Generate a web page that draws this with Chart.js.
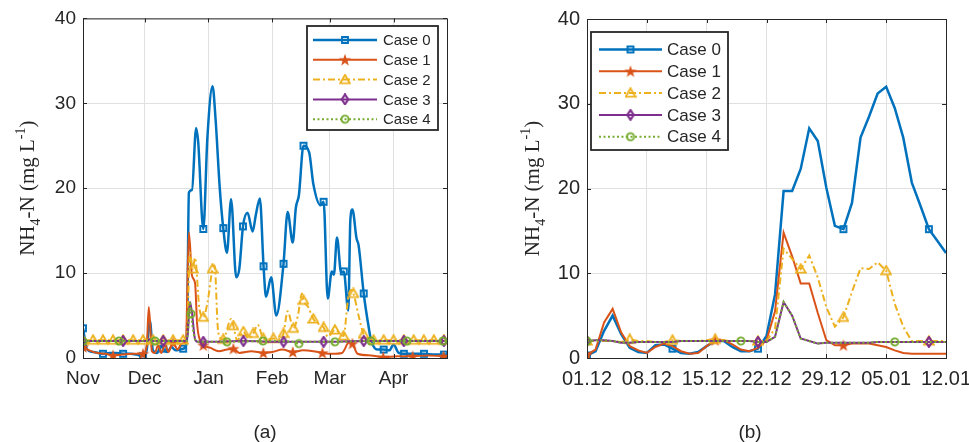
<!DOCTYPE html>
<html>
<head>
<meta charset="utf-8">
<title>NH4-N cases</title>
<script src="https://cdn.jsdelivr.net/npm/chart.js@4.4.0/dist/chart.umd.min.js"></script>
<style>
    html, body { margin: 0; padding: 0; background: #fff; overflow: hidden; }
    body { width: 969px; height: 442px; position: relative; }
    canvas { position: absolute; top: 0; }
    #chart-a { left: 0; }
    #chart-b { left: 480px; }
    .caption {
        position: absolute; top: 421px; width: 60px; line-height: 22px;
        text-align: center; color: #262626;
        font: 19px "Liberation Sans", Arial, sans-serif;
    }
</style>
</head>
<body>
<canvas id="chart-a" width="480" height="442"></canvas>
<canvas id="chart-b" width="520" height="442"></canvas>
<div class="caption" style="left:235px">(a)</div>
<div class="caption" style="left:720px">(b)</div>
<script>
const seriesNames = ["Case 0", "Case 1", "Case 2", "Case 3", "Case 4"];
const yTicks = [0, 10, 20, 30, 40];

// (a) whole season, x = days after 1 Nov
const monthTicks = [0, 30, 61, 92, 120, 151];
const monthLabels = ["Nov", "Dec", "Jan", "Feb", "Mar", "Apr"];

const a0Days = [0, 2, 5, 9.7, 13, 16, 19.5, 23, 26, 29.2, 31, 32.5, 34, 36, 38, 39, 41, 43, 45, 48.7,
    50.5, 51.5, 53, 55, 56, 58.5, 60.5, 63, 64.5, 66.5, 68.2, 70, 72, 74.5, 76, 77.8, 80, 82.5, 84, 86,
    87.8, 89, 91.5, 94, 97.5, 99.5, 102, 103.5, 105, 107.2, 110, 112, 115.5, 117, 119, 121, 122, 123.5, 125.5, 126.8,
    129, 130, 131, 133, 134, 136.5, 139, 140, 143, 146.2, 149, 151, 153.5, 156, 161, 165.8, 171, 175.5, 177];
const a0Vals = [3.5, 1.0, 0.7, 0.5, 0.6, 0.6, 0.5, 0.5, 0.4, 0.2, 1.0, 4.4, 0.9, 0.6, 1.4, 1.1, 0.7, 1.3, 0.9, 1.1,
    2.0, 19.5, 19.8, 27.1, 25.5, 15.2, 26.0, 32.0, 28.0, 20.0, 15.3, 12.4, 18.7, 9.5, 10.5, 15.5, 17.1, 14.9, 16.8, 18.8,
    10.8, 7.2, 9.5, 5.0, 11.1, 17.2, 13.6, 17.7, 19.2, 25.0, 24.2, 20.5, 18.0, 18.4, 7.0, 10.2, 9.8, 14.2, 10.1, 10.2,
    5.6, 16.2, 17.5, 14.1, 13.3, 7.6, 3.5, 2.2, 1.0, 1.0, 0.9, 1.6, 0.6, 0.5, 0.5, 0.5, 0.4, 0.4, 0.4];
const a0Marks = [0, 9.7, 19.5, 29.2, 39, 48.7, 58.5, 68.2, 77.8, 87.8, 97.5, 107.2, 117, 126.8, 136.5, 146.2, 156, 165.8, 175.5];

const a1Days = [0, 3, 7, 11, 14.6, 19, 24, 29.2, 31, 32, 33.5, 35, 36.5, 38, 40, 41.5, 43.8, 46, 48, 50,
    51.5, 53, 54.5, 55.5, 57, 58.5, 62, 66, 70, 73.1, 76, 82, 85, 87.7, 92, 97, 102, 107, 112, 116.4,
    121, 126, 129.5, 131, 133.5, 140, 146, 153, 160.3, 168, 175.3, 177];
const a1Vals = [1.3, 0.9, 0.6, 0.5, 0.3, 0.4, 0.5, 0.5, 1.5, 6.0, 0.8, 0.6, 1.5, 0.6, 1.6, 0.7, 1.8, 1.0, 1.7, 1.9,
    14.8, 9.7, 8.8, 4.0, 2.0, 1.5, 1.2, 0.8, 1.0, 1.1, 0.6, 0.8, 0.7, 0.6, 0.7, 1.0, 0.7, 0.9, 0.8, 0.6,
    0.5, 0.6, 1.9, 1.7, 0.5, 0.3, 0.1, 0.2, 0.2, 0.3, 0.2, 0.2];
const a1Marks = [0, 14.6, 29.2, 43.8, 58.5, 73.1, 87.7, 102, 116.4, 131, 146, 160.3, 175.3];

const a2Days = [0, 4.9, 9.7, 14.6, 19.5, 24.4, 29.2, 32.5, 34.1, 39, 43.8, 48.7, 50.5, 52, 53.4, 54.5, 56.5, 58.5, 60.5, 63,
    64, 65.5, 66.5, 68.2, 72, 73.1, 75, 78, 80.5, 82.8, 85, 87.7, 90, 92.6, 95, 97.5, 99.5, 102.3, 104.5, 106.5,
    107.2, 109.5, 112, 114, 117, 119, 122.5, 126.7, 129, 130.5, 131.5, 134, 136.4, 138, 141.3, 146.2, 151, 156, 160.8, 165.7,
    170.6, 175.5, 177];
const a2Vals = [2.1, 2.1, 2.1, 2.1, 2.1, 2.1, 2.1, 2.2, 2.1, 2.1, 2.1, 2.1, 2.4, 12.4, 10.5, 11.8, 6.0, 4.8, 6.5, 10.5,
    10.9, 3.7, 2.4, 2.2, 4.6, 3.8, 2.1, 3.1, 2.3, 2.9, 3.9, 2.3, 2.2, 2.3, 2.2, 2.9, 5.5, 3.5, 5.0, 7.6,
    6.8, 6.0, 4.6, 4.1, 3.6, 2.5, 3.3, 2.6, 7.2, 8.0, 7.6, 5.0, 2.8, 2.2, 2.1, 2.1, 2.1, 2.1, 2.1, 2.1,
    2.1, 2.1, 2.1];
const a2Marks = [0, 4.9, 9.7, 14.6, 19.5, 24.4, 29.2, 34.1, 39, 43.8, 48.7, 53.4, 58.5, 63, 68.2, 73.1, 78, 82.8, 87.7,
    92.6, 97.5, 102.3, 107.2, 112, 117, 122.5, 126.7, 131.5, 136.4, 141.3, 146.2, 151, 156, 160.8, 165.7, 170.6, 175.5];

const a3Days = [0, 19.5, 31, 32.5, 34, 39, 50, 51, 52, 53, 54.5, 56, 58.5, 78, 97.5, 117, 136.5, 156, 175.5, 177];
const a3Vals = [2.0, 2.0, 2.0, 2.2, 2.0, 2.0, 2.0, 3.0, 6.6, 5.3, 2.2, 1.9, 1.9, 2.0, 1.9, 1.9, 2.0, 2.0, 2.0, 2.0];
const a3Marks = [0, 19.5, 39, 58.5, 78, 97.5, 117, 136.5, 156, 175.5];

const a4Days = [0, 17.5, 31, 32.5, 34, 35, 50, 51, 52, 52.5, 54.5, 56, 70, 87.5, 102, 105, 108, 122.5, 140, 157.5, 175, 177];
const a4Vals = [2.0, 2.0, 2.0, 2.2, 2.0, 2.0, 2.0, 3.0, 6.6, 5.2, 2.2, 1.9, 1.9, 2.0, 1.9, 1.7, 1.9, 1.9, 2.0, 2.0, 2.0, 2.0];
const a4Marks = [0, 17.5, 35, 52.5, 70, 87.5, 105, 122.5, 140, 157.5, 175];

// (b) zoom on the first peak, x = days after 1 Dec, daily values
const dateTicks = [0, 7, 14, 21, 28, 35, 42];
const dateLabels = ["01.12", "08.12", "15.12", "22.12", "29.12", "05.01", "12.01"];
const bDays = [0, 1, 2, 3, 4, 5, 6, 7, 8, 9, 10, 11, 12, 13, 14, 15, 16, 17, 18, 19, 20,
    21, 22, 23, 24, 25, 26, 27, 28, 29, 30, 31, 32, 33, 34, 35, 36, 37, 38, 39, 40, 41, 42];
const b0Vals = [0.3, 0.8, 3.2, 5.0, 2.8, 1.2, 0.7, 0.6, 1.5, 1.6, 1.1, 0.6, 0.5, 0.7, 1.4, 2.0, 2.0, 1.3, 0.8, 0.8, 1.1,
    2.6, 7.5, 19.7, 19.7, 22.3, 27.1, 25.6, 20.1, 15.6, 15.2, 18.3, 26.0, 28.5, 31.2, 32.0, 29.5, 26.0, 20.7, 18.0, 15.2, 13.8, 12.4];
const b1Vals = [0.4, 1.0, 4.2, 5.8, 3.0, 1.4, 0.9, 0.6, 1.3, 1.7, 1.4, 0.8, 0.5, 0.6, 1.4, 2.1, 2.1, 1.6, 1.0, 0.8, 1.2,
    2.1, 5.5, 14.8, 12.0, 8.8, 8.8, 5.3, 2.1, 1.5, 1.5, 1.7, 1.7, 1.7, 1.5, 1.3, 0.9, 0.6, 0.5, 0.5, 0.5, 0.5, 0.5];
const b2Vals = [2.0, 2.0, 2.0, 2.0, 1.9, 2.2, 2.0, 2.0, 1.9, 1.9, 2.1, 2.0, 2.0, 2.0, 2.1, 2.2, 2.1, 2.0, 2.0, 2.0, 2.0,
    2.0, 3.5, 12.9, 11.7, 10.5, 12.1, 9.5, 6.0, 3.7, 4.8, 7.8, 10.6, 10.5, 11.3, 10.3, 6.4, 3.7, 2.0, 2.0, 2.0, 2.0, 2.0];
const b3Vals = [2.0, 2.1, 2.1, 2.0, 1.8, 1.8, 1.9, 1.9, 1.9, 1.9, 1.9, 2.0, 2.0, 2.0, 2.0, 2.0, 2.0, 2.0, 2.0, 2.0, 1.9,
    1.9, 2.5, 6.6, 5.0, 2.3, 2.0, 1.7, 1.8, 1.8, 1.8, 1.8, 1.8, 1.8, 1.9, 1.9, 1.9, 1.9, 1.9, 1.9, 1.9, 1.9, 1.9];
const b4Vals = [2.0, 2.1, 2.1, 2.0, 1.8, 1.8, 1.9, 1.9, 1.9, 1.9, 1.9, 2.0, 2.0, 2.0, 2.0, 2.0, 2.0, 2.0, 2.0, 2.0, 1.9,
    1.9, 2.5, 6.6, 5.0, 2.3, 2.0, 1.7, 1.8, 1.8, 1.8, 1.8, 1.8, 1.8, 1.9, 1.9, 1.9, 1.9, 1.9, 1.9, 1.9, 1.9, 1.9];
const b0Marks = [0, 10, 20, 30, 40];
const b1Marks = [0, 15, 30];
const b2Marks = [0, 5, 10, 15, 20, 25, 30, 35, 40];
const b3Marks = [0, 20, 40];
const b4Marks = [0, 18, 36];

const AXIS_COLOR = "#262626";
const GRID_COLOR = "#e0e0e0";
const SANS = '"Liberation Sans", Arial, sans-serif';
const SERIF = '"Liberation Serif", "Times New Roman", serif';

const seriesStyle = [
    { color: "#0072BD", width: 2.5, dash: [], marker: "square" },
    { color: "#D95319", width: 2, dash: [], marker: "star" },
    { color: "#EDB120", width: 2, dash: [7, 3, 2, 3], marker: "triangle" },
    { color: "#7E2F8E", width: 2, dash: [], marker: "diamond" },
    { color: "#77AC30", width: 2, dash: [2, 2.5], marker: "circle" }
];

function makeMarker(kind, color) {
    const c = document.createElement("canvas");
    const s = kind === "star" ? 14 : 12;
    c.width = s;
    c.height = s;
    const g = c.getContext("2d");
    const m = s / 2;
    g.strokeStyle = color;
    g.fillStyle = color;
    g.lineWidth = 1.9;
    g.beginPath();
    if (kind === "square") {
        g.rect(m - 3, m - 3, 6, 6);
        g.stroke();
    } else if (kind === "star") {
        for (let i = 0; i < 10; i++) {
            const r = i % 2 === 0 ? 6.5 : 2.6;
            const a = -Math.PI / 2 + i * Math.PI / 5;
            const px = m + r * Math.cos(a);
            const py = m + 0.5 + r * Math.sin(a);
            if (i === 0) g.moveTo(px, py); else g.lineTo(px, py);
        }
        g.closePath();
        g.fill();
    } else if (kind === "triangle") {
        g.moveTo(m, m - 4.8);
        g.lineTo(m + 4.8, m + 3.6);
        g.lineTo(m - 4.8, m + 3.6);
        g.closePath();
        g.stroke();
    } else if (kind === "diamond") {
        g.lineWidth = 2.2;
        g.moveTo(m, m - 4.8);
        g.lineTo(m + 3.2, m);
        g.lineTo(m, m + 4.8);
        g.lineTo(m - 3.2, m);
        g.closePath();
        g.stroke();
    } else {
        g.arc(m, m, 3.6, 0, Math.PI * 2);
        g.stroke();
    }
    return c;
}

const markers = seriesStyle.map(st => makeMarker(st.marker, st.color));

function makeDatasets(series, smooth) {
    return series.map((s, i) => {
        const st = seriesStyle[i];
        return {
            label: seriesNames[i],
            data: s.days.map((d, j) => ({ x: d, y: s.vals[j] })),
            borderColor: st.color,
            borderWidth: st.width,
            borderDash: st.dash,
            pointStyle: markers[i],
            pointRadius: ctx => (ctx.raw && s.marks.includes(ctx.raw.x)) ? 4 : 0,
            pointHoverRadius: 0,
            cubicInterpolationMode: smooth ? "monotone" : "default",
            tension: 0,
            fill: false,
            order: 4 - i
        };
    });
}

const matlabPlugin = {
    id: "matlab",
    afterDatasetsDraw(chart, args, opts) {
        const { ctx, chartArea: a, scales: { x, y } } = chart;
        ctx.save();
        ctx.strokeStyle = AXIS_COLOR;
        ctx.lineWidth = 1;
        ctx.setLineDash([]);
        ctx.beginPath();
        x.ticks.forEach(t => {
            const px = Math.round(x.getPixelForValue(t.value)) + 0.5;
            ctx.moveTo(px, a.bottom); ctx.lineTo(px, a.bottom - 4);
            ctx.moveTo(px, a.top); ctx.lineTo(px, a.top + 4);
        });
        y.ticks.forEach(t => {
            const py = Math.round(y.getPixelForValue(t.value)) + 0.5;
            ctx.moveTo(a.left, py); ctx.lineTo(a.left + 4, py);
            ctx.moveTo(a.right, py); ctx.lineTo(a.right - 4, py);
        });
        ctx.stroke();
        ctx.strokeRect(a.left + 0.5, a.top + 0.5, a.width, a.height);

        // legend box
        const L = opts.legend;
        ctx.fillStyle = "#fff";
        ctx.fillRect(L.x, L.y, L.w, L.h);
        ctx.lineWidth = 1.8;
        ctx.strokeRect(L.x, L.y, L.w, L.h);
        chart.data.datasets.forEach((ds, i) => {
            const ry = L.y + L.first + i * L.step;
            ctx.save();
            ctx.strokeStyle = ds.borderColor;
            ctx.lineWidth = ds.borderWidth;
            ctx.setLineDash(ds.borderDash);
            ctx.beginPath();
            ctx.moveTo(L.x + L.lineFrom, ry);
            ctx.lineTo(L.x + L.lineTo, ry);
            ctx.stroke();
            ctx.restore();
            const mk = ds.pointStyle;
            const cx = L.x + (L.lineFrom + L.lineTo) / 2;
            ctx.drawImage(mk, cx - mk.width / 2, ry - mk.height / 2);
            ctx.fillStyle = AXIS_COLOR;
            ctx.font = L.fontSize + "px " + SANS;
            ctx.textBaseline = "middle";
            ctx.textAlign = "left";
            ctx.fillText(ds.label, L.x + L.textX, ry + 1);
        });
        ctx.restore();
    },
    afterDraw(chart, args, opts) {
        // y title: NH4-N (mg L-1) with sub/superscripts
        const { ctx, chartArea: a } = chart;
        const size = opts.titleSize;
        const big = size + "px " + SERIF;
        const small = Math.round(size * 0.68) + "px " + SERIF;
        const parts = [
            ["NH", big, 0], ["4", small, 0.3 * size], ["-N (mg L", big, 0], ["-1", small, -0.42 * size], [")", big, 0]
        ];
        ctx.save();
        ctx.translate(opts.titleX, (a.top + a.bottom) / 2);
        ctx.rotate(-Math.PI / 2);
        ctx.fillStyle = AXIS_COLOR;
        ctx.textBaseline = "alphabetic";
        ctx.textAlign = "left";
        let total = 0;
        parts.forEach(p => { ctx.font = p[1]; total += ctx.measureText(p[0]).width; });
        let px = -total / 2;
        const base = 0.33 * size;
        parts.forEach(p => {
            ctx.font = p[1];
            ctx.fillText(p[0], px, base + p[2]);
            px += ctx.measureText(p[0]).width;
        });
        ctx.restore();
    }
};

function buildChart(canvasId, datasets, xCfg, panel) {
    const tickFont = { family: SANS, size: panel.tickSize };
    return new Chart(document.getElementById(canvasId), {
        type: "line",
        data: { datasets: datasets },
        plugins: [matlabPlugin],
        options: {
            responsive: false,
            animation: false,
            devicePixelRatio: 1,
            events: [],
            layout: { padding: { left: 0, top: 17, right: panel.padRight, bottom: 0 } },
            plugins: {
                legend: { display: false },
                tooltip: { enabled: false },
                matlab: { legend: panel.legend, titleX: panel.titleX, titleSize: 21 }
            },
            scales: {
                x: {
                    type: "linear",
                    min: xCfg.min,
                    max: xCfg.max,
                    afterBuildTicks: scale => { scale.ticks = xCfg.ticks.map(v => ({ value: v })); },
                    afterFit: scale => { scale.height = 84; },
                    ticks: {
                        callback: v => xCfg.labels[xCfg.ticks.indexOf(v)],
                        font: tickFont, color: AXIS_COLOR, padding: 9,
                        maxRotation: 0, autoSkip: false
                    },
                    grid: { color: GRID_COLOR, lineWidth: 1, drawTicks: false },
                    border: { display: false }
                },
                y: {
                    min: 0,
                    max: 40,
                    afterBuildTicks: scale => { scale.ticks = yTicks.map(v => ({ value: v })); },
                    afterFit: scale => { scale.width = panel.yWidth; },
                    ticks: { font: tickFont, color: AXIS_COLOR, padding: 7 },
                    grid: { color: GRID_COLOR, lineWidth: 1, drawTicks: false },
                    border: { display: false }
                }
            }
        }
    });
}

const seriesA = [
    { days: a0Days, vals: a0Vals, marks: a0Marks },
    { days: a1Days, vals: a1Vals, marks: a1Marks },
    { days: a2Days, vals: a2Vals, marks: a2Marks },
    { days: a3Days, vals: a3Vals, marks: a3Marks },
    { days: a4Days, vals: a4Vals, marks: a4Marks }
];
const seriesB = [
    { days: bDays, vals: b0Vals, marks: b0Marks },
    { days: bDays, vals: b1Vals, marks: b1Marks },
    { days: bDays, vals: b2Vals, marks: b2Marks },
    { days: bDays, vals: b3Vals, marks: b3Marks },
    { days: bDays, vals: b4Vals, marks: b4Marks }
];

buildChart("chart-a", makeDatasets(seriesA, true),
    { min: 0, max: 177, ticks: monthTicks, labels: monthLabels },
    {
        tickSize: 19, padRight: 33, yWidth: 83, titleX: 27,
        legend: { x: 307, y: 26, w: 131, h: 104, first: 14, step: 19.8, lineFrom: 6, lineTo: 70, textX: 76, fontSize: 15 }
    });

buildChart("chart-b", makeDatasets(seriesB, false),
    { min: 0, max: 42, ticks: dateTicks, labels: dateLabels },
    {
        tickSize: 20, padRight: 54, yWidth: 107, titleX: 52,
        legend: { x: 111, y: 32, w: 137, h: 118, first: 17.5, step: 21.8, lineFrom: 8, lineTo: 71, textX: 76, fontSize: 17 }
    });
</script>
</body>
</html>
